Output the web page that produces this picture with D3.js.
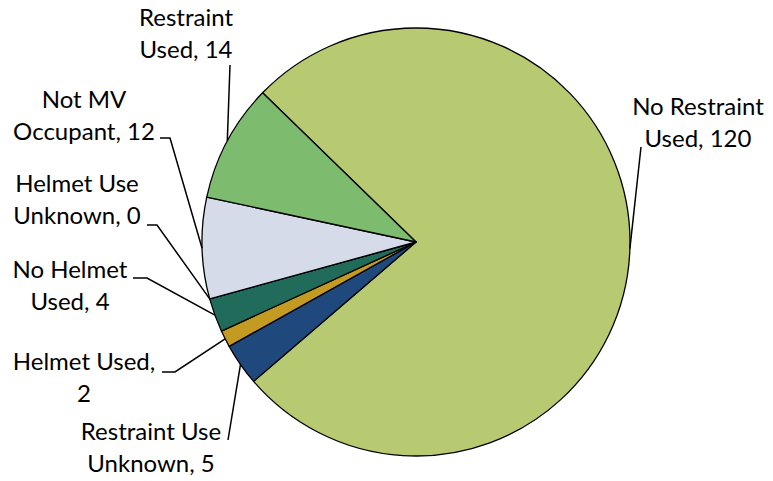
<!DOCTYPE html>
<html>
<head>
<meta charset="utf-8">
<script src="https://cdn.jsdelivr.net/npm/d3@7"></script>
<style>
  body { margin: 0; background: white; }
  text { font-family: Lato, "Noto Sans", sans-serif; fill: #000; }
</style>
</head>
<body>
<main></main>
<script>
// slices, in clockwise order starting from the big one
const categories = ["No Restraint Used", "Restraint Use Unknown", "Helmet Used", "No Helmet Used",
    "Helmet Use Unknown", "Not MV Occupant", "Restraint Used"]
const values = [120, 5, 2, 4, 0, 12, 14]
const colors = ["#B7C971", "#1F487D", "#C39A22", "#216B5A", "#D0D6E6", "#D5DBE8", "#7DBC6F"]
// label text lines
const labelLines = [
    ["No Restraint", "Used, 120"],
    ["Restraint Use", "Unknown, 5"],
    ["Helmet Used,", "2"],
    ["No Helmet", "Used, 4"],
    ["Helmet Use", "Unknown, 0"],
    ["Not MV", "Occupant, 12"],
    ["Restraint", "Used, 14"]
]

const svgWidth = 773
const svgHeight = 481
const cx = 416
const cy = 242
const radius = 214

// layout: label centre (first baseline) and leader start point
const labelPos = [
    [698, 115], [151, 440], [84, 370], [70, 278], [77, 192], [84, 108], [186, 26]
]
const leaderStart = [
    [641, 147], [228, 440], [162, 372], [133, 278], [147, 225], [160, 138], [230, 65]
]
const leaderBend = [
    null, null, [175, 372], [147, 278], [157, 225], [170, 138], null
]

let svg = d3.select("main")
    .append("svg")
    .attr("width", svgWidth)
    .attr("height", svgHeight)

let data = categories.map((c, i) => ({ name: c, value: values[i], color: colors[i], lines: labelLines[i] }))

let pie = d3.pie()
    .sort(null)
    .value(d => d.value)
    .startAngle(-45.8 * Math.PI / 180)
    .endAngle((360 - 45.8) * Math.PI / 180)

let arcs = pie(data)

let arc = d3.arc()
    .innerRadius(0)
    .outerRadius(radius)

let edgeArc = d3.arc()
    .innerRadius(radius)
    .outerRadius(radius)

let g = svg.append("g")
    .attr("transform", `translate(${cx}, ${cy})`)

g.selectAll("path.slice")
    .data(arcs)
    .enter()
    .append("path")
    .attr("class", "slice")
    .attr("d", arc)
    .attr("fill", d => d.data.color)
    .attr("stroke", "#000")
    .attr("stroke-width", 1.3)
    .attr("stroke-linejoin", "round")

// leader lines
svg.selectAll("polyline.leader")
    .data(arcs)
    .enter()
    .append("polyline")
    .attr("class", "leader")
    .attr("fill", "none")
    .attr("stroke", "#000")
    .attr("stroke-width", 1.5)
    .attr("points", (d, i) => {
        let p = edgeArc.centroid(d)
        let pts = [leaderStart[i]]
        if (leaderBend[i]) pts.push(leaderBend[i])
        pts.push([cx + p[0], cy + p[1]])
        return pts.map(q => q.join(",")).join(" ")
    })

// labels
let labels = svg.selectAll("text.label")
    .data(arcs)
    .enter()
    .append("text")
    .attr("class", "label")
    .attr("text-anchor", "middle")
    .style("font-size", "24px")
    .attr("transform", (d, i) => `translate(${labelPos[i][0]}, ${labelPos[i][1]})`)

labels.selectAll("tspan")
    .data(d => d.data.lines)
    .enter()
    .append("tspan")
    .attr("x", 0)
    .attr("y", (t, j) => j * 32)
    .text(t => t)
</script>
</body>
</html>
